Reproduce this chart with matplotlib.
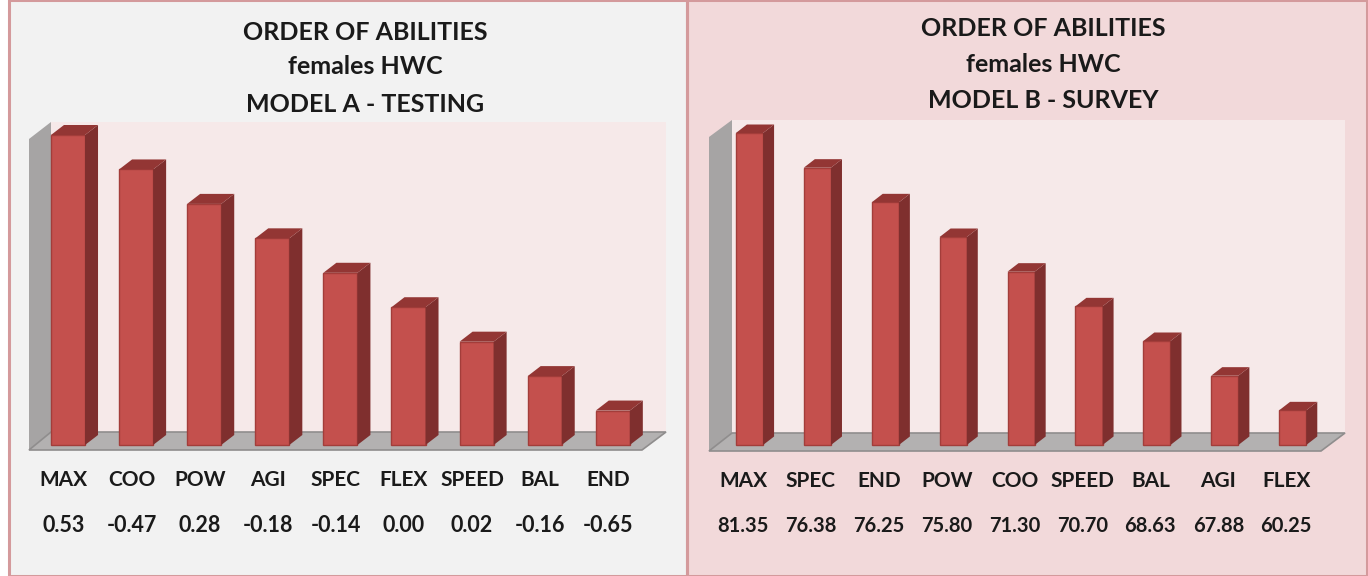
import matplotlib
matplotlib.use("Agg")
import matplotlib.pyplot as plt
from matplotlib.patches import Polygon, Rectangle

W, H = 1368, 576

# bars are drawn by rank order in both panels
heights_a = [9, 8, 7, 6, 5, 4, 3, 2, 1]
labels_a = ["MAX", "COO", "POW", "AGI", "SPEC", "FLEX", "SPEED", "BAL", "END"]
values_a = ["0.53", "-0.47", "0.28", "-0.18", "-0.14", "0.00", "0.02", "-0.16", "-0.65"]

heights_b = [9, 8, 7, 6, 5, 4, 3, 2, 1]
labels_b = ["MAX", "SPEC", "END", "POW", "COO", "SPEED", "BAL", "AGI", "FLEX"]
values_b = ["81.35", "76.38", "76.25", "75.80", "71.30", "70.70", "68.63", "67.88", "60.25"]

plt.rcParams["font.family"] = ["Lato", "DejaVu Sans"]

fig = plt.figure(figsize=(W / 100, H / 100), dpi=100)


def panel_bg(x0, x1, color):
    fig.patches.append(Rectangle((x0 / W, 0), (x1 - x0) / W, 1, transform=fig.transFigure,
                                 facecolor=color, edgecolor="none", zorder=-5))


def draw_panel(heights, labels, values, title, left, spacing, top_px, bar_w, dx_px, dy_px, title_x, title_ys,
               wall_x, wall_w, wall_top, right_back, right_front, floor_back, floor_front, label_shift, text_ys,
               value_size):
    n = len(heights)
    base = 445
    unit = (base - top_px) / max(heights)
    # axes runs from slot edge to slot edge, y in rank units
    ax = fig.add_axes([(left - spacing / 2) / W, 1 - base / H, spacing * n / W, unit * max(heights) / H])
    ax.set_xlim(-0.5, n - 0.5)
    ax.set_ylim(0, max(heights))
    ax.axis("off")

    sx = 1 / spacing
    sy = 1 / unit
    dx = dx_px * sx
    dy = dy_px * sy
    x_of = lambda px: (px - left) * sx
    y_of = lambda py: (base - py) * sy

    # back wall, side wall and floor
    back_l = x_of(wall_x + wall_w)
    ax.add_patch(Polygon([(back_l, y_of(wall_top)), (x_of(right_back), y_of(wall_top)),
                          (x_of(right_back), y_of(floor_back)), (back_l, y_of(floor_back))],
                         facecolor="#f6e9e9", edgecolor="none", clip_on=False, zorder=0))
    ax.add_patch(Polygon([(x_of(wall_x), y_of(wall_top + 17)), (back_l, y_of(wall_top)), (back_l, y_of(floor_back)),
                          (x_of(wall_x), y_of(floor_front))],
                         facecolor="#a6a4a4", edgecolor="none", clip_on=False, zorder=1))
    ax.add_patch(Polygon([(x_of(wall_x), y_of(floor_front)), (back_l, y_of(floor_back)),
                          (x_of(right_back), y_of(floor_back)), (x_of(right_front), y_of(floor_front))],
                         facecolor="#b3b1b1", edgecolor="#8f8d8d", linewidth=1.2, clip_on=False, zorder=1))

    for i, h in enumerate(heights):
        x0 = i - bar_w / 2
        x1 = i + bar_w / 2
        ax.bar(i, h, width=bar_w, color="#c4504d", edgecolor="#a33d3a", linewidth=1, zorder=3, clip_on=False)
        ax.add_patch(Polygon([(x1, 0), (x1 + dx, dy), (x1 + dx, h + dy), (x1, h)],
                             facecolor="#7f2f2e", edgecolor="none", clip_on=False, zorder=3))
        ax.add_patch(Polygon([(x0, h), (x0 + dx, h + dy), (x1 + dx, h + dy), (x1, h)],
                             facecolor="#933634", edgecolor="none", clip_on=False, zorder=3))

    trans = ax.get_xaxis_transform()
    label_y = -(text_ys[0] - base) / (unit * max(heights))
    value_y = -(text_ys[1] - base) / (unit * max(heights))
    for i in range(n):
        ax.text(i + label_shift * sx, label_y, labels[i], transform=trans, ha="center", va="center",
                fontsize=15, fontweight="bold", color="#1a1a1a", clip_on=False)
        ax.text(i + label_shift * sx, value_y, values[i], transform=trans, ha="center", va="center",
                fontsize=value_size, fontweight="bold", color="#1a1a1a", clip_on=False)

    for line, y in zip(title, title_ys):
        fig.text(title_x / W, 1 - y / H, line, ha="center", va="center",
                 fontsize=18, fontweight="bold", color="#1a1a1a")


panel_bg(8, 687, "#f2f2f2")
panel_bg(687, W, "#f2d9da")

draw_panel(heights_a, labels_a, values_a, ["ORDER OF ABILITIES", "females HWC", "MODEL A - TESTING"],
           left=68, spacing=68.1, top_px=135, bar_w=0.5, dx_px=13, dy_px=10, title_x=365, title_ys=[32, 66, 104],
           wall_x=29, wall_w=22, wall_top=122, right_back=666, right_front=642,
           floor_back=432, floor_front=450, label_shift=-4.5, text_ys=[480, 525], value_size=15.5)
draw_panel(heights_b, labels_b, values_b, ["ORDER OF ABILITIES", "females HWC", "MODEL B - SURVEY"],
           left=749.5, spacing=67.9, top_px=133, bar_w=0.4, dx_px=11, dy_px=8.5, title_x=1043, title_ys=[29, 65, 101],
           wall_x=709, wall_w=23, wall_top=120, right_back=1345, right_front=1321,
           floor_back=433, floor_front=451, label_shift=-6.5, text_ys=[481, 526], value_size=14.5)

# panel borders
for x0, x1 in [(9, 687), (687, 1367)]:
    fig.patches.append(Rectangle((x0 / W, 0), (x1 - x0) / W, 1, transform=fig.transFigure, facecolor="none",
                                 edgecolor="#d49a9c", linewidth=2.2, zorder=5))

fig.savefig("out.png", dpi=100)
